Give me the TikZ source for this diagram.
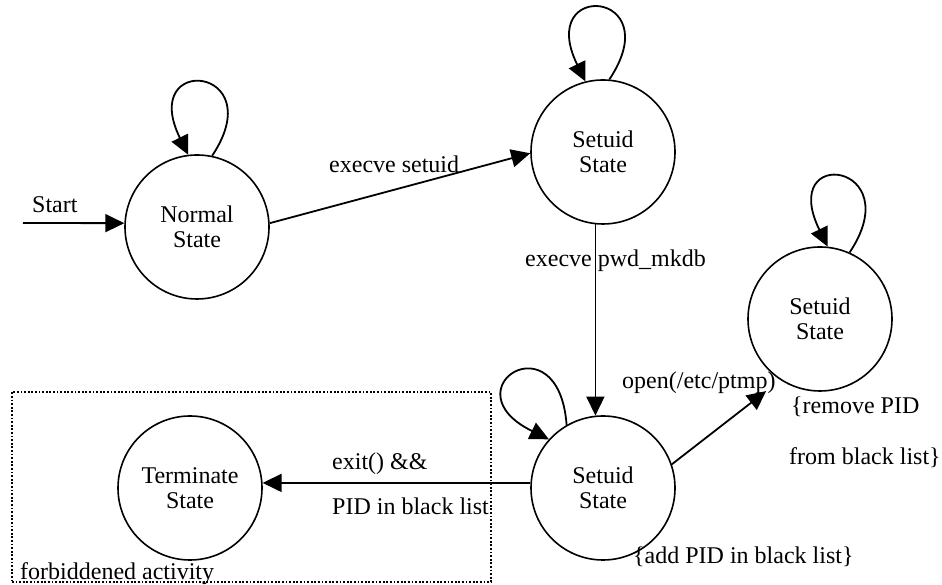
\documentclass[tikz,border=0pt]{standalone}
\usepackage{fontspec}
\setmainfont{Liberation Serif}
\usetikzlibrary{arrows.meta}

\begin{document}
\begin{tikzpicture}[x=1pt,y=1pt,
  state/.style={circle, draw, line width=1.6pt, minimum size=144pt, inner sep=0pt,
    align=center, font=\fontsize{24}{25}\selectfont},
  lbl/.style={font=\fontsize{24}{28}\selectfont, inner sep=0pt, anchor=base west},
  edge/.style={line width=1.8pt, -{Triangle[length=19pt,width=18pt]}},
  zonebox/.style={draw, line width=1.8pt, dash pattern=on 1.8pt off 1.8pt,
    inner sep=0pt, anchor=south west},
]
\useasboundingbox (0,0) rectangle (942,585);

% states
\node[state] (n)  at (197,358) {Normal\\State};
\node[state] (s1) at (603,433) {Setuid\\State};
\node[state] (s2) at (820,266) {Setuid\\State};
\node[state] (s3) at (603,97)  {Setuid\\State};
\node[state] (t)  at (190,97)  {Terminate\\State};

% forbidden region
\node[zonebox, minimum width=479pt, minimum height=190pt] (zone) at (11,2) {};
\node[lbl] (zonelbl) at (20,5) {forbiddened activity};

% initial arrow
\coordinate (start) at (23,362);
\draw[edge] (start) -- (n.177);
\node[lbl] (startlbl) at (32,372) {Start};

% transitions
\draw[edge] (n.3) -- (s1.181);
\draw[edge] (s1.264) -- (s3.96);
\draw[edge, shorten >=18pt] (s3.19) -- (s2.237);
\draw[edge] (s3.176) -- (t.4);

% self loops
\draw[edge] (n.78)  .. controls +(60,90) and +(-50,102) .. (n.97);
\draw[edge] (s1.85) .. controls +(60,90) and +(-50,102) .. (s1.104);
\draw[edge] (s2.66) .. controls +(60,90) and +(-50,102) .. (s2.84);
\draw[edge] (s3.120) .. controls +(-8,108) and +(-102,50) .. (s3.138);

% transition labels
\node[lbl] (l1) at (329,412) {execve setuid};
\node[lbl] (l2) at (525,318) {execve pwd\_mkdb};
\node[lbl] (l3) at (622,196) {open(/etc/ptmp)};
\node[lbl] (l4) at (791,171) {\{remove PID};
\node[lbl] (l5) at (789,120) {from black list\}};
\node[lbl] (l6) at (633,21)  {\{add PID in black list\}};
\node[lbl] (l7) at (332,115) {exit() \&\&};
\node[lbl] (l8) at (332,70)  {PID in black list};
\end{tikzpicture}
\end{document}
